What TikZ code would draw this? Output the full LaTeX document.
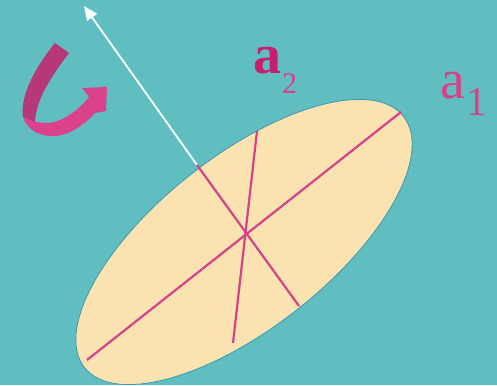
\documentclass[tikz,border=0pt]{standalone}
\usepackage{fontspec}
\setmainfont{Liberation Serif}
\usetikzlibrary{arrows.meta}
\definecolor{bg}{RGB}{96,190,193}
\definecolor{egg}{RGB}{251,227,177}
\definecolor{eggedge}{RGB}{62,150,178}
\definecolor{mag}{RGB}{214,66,136}
\definecolor{ribdark}{RGB}{183,56,120}
\definecolor{riblight}{RGB}{218,66,139}
\definecolor{labdark}{RGB}{200,30,110}
\definecolor{lab}{RGB}{214,66,136}
\begin{document}
\begin{tikzpicture}[x=1pt,y=-1pt,
  axisline/.style={draw=mag,line width=2.2pt},
  labelnode/.style={inner sep=0pt,anchor=base west}]
\fill[bg] (0,0) rectangle (497,385);
\useasboundingbox (0,0) rectangle (497,385);
\begin{scope}
\clip (0,0) rectangle (497,385);
\draw[eggedge,line width=0.8pt,fill=egg,rotate around={38.2:(244,242)}]
  (244,242) ellipse [x radius=203,y radius=86];
\end{scope}
% coordinates
\coordinate (M1) at (87,360);
\coordinate (M2) at (401,112);
\coordinate (N1) at (197,165);
\coordinate (N2) at (299,306);
\coordinate (P1) at (257,131);
\coordinate (P2) at (233,343);
\coordinate (T) at (84,6);
% white arrow
\draw[white,line width=1.8pt,-{Triangle[length=14pt,width=12pt]}] (N1) -- (T);
% axes
\draw[axisline] (M1) -- (M2);
\draw[axisline] (N1) -- (N2);
\draw[axisline] (P1) -- (P2);
% ribbon arrow
\fill[ribdark] (55,43) -- (69,53) .. controls (50,78) and (36,100) .. (35,122)
  -- (23,117) .. controls (20,95) and (35,68) .. (55,43) -- cycle;
\fill[riblight] (23,117) .. controls (28,132) and (42,137) .. (57,136)
  .. controls (72,134) and (86,123) .. (95,113) -- (106,111) -- (107,87)
  -- (82,88) -- (89,97) .. controls (78,111) and (62,122) .. (48,123)
  .. controls (42,123) and (37,122) .. (35,122) -- cycle;
% labels
\node[labelnode,text=labdark,font=\fontsize{56}{56}\selectfont\bfseries] (a2) at (253,73.3) {a};
\node[labelnode,text=lab,font=\fontsize{30}{30}\selectfont] (s2) at (282,93) {2};
\node[labelnode,text=lab,font=\fontsize{56}{56}\selectfont] (a1) at (440,98.3) {a};
\node[labelnode,text=lab,font=\fontsize{41}{41}\selectfont] (s1) at (466,115) {1};
\end{tikzpicture}
\end{document}
